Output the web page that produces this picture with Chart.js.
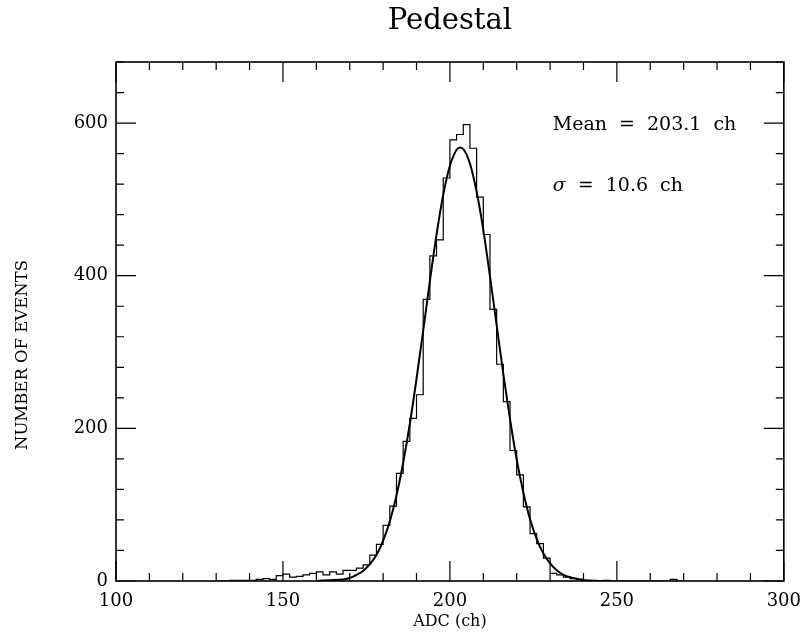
<!DOCTYPE html>
<html lang="en">
<head>
<meta charset="UTF-8">
<title>Pedestal</title>
<script src="https://cdn.jsdelivr.net/npm/chart.js"></script>
<style>
    html, body { margin: 0; padding: 0; background: #fff; overflow: hidden; }
    canvas { display: block; }
</style>
</head>
<body>
<canvas id="pedestalChart" width="811" height="639"></canvas>
<script>
    // histogram: 2-channel bins, first bin starts at ADC 130
    const binStart = 130;
    const binWidth = 2;
    const counts = [
        0, 0, 1, 1, 1, 1, 2, 3, 2, 7,
        9, 5, 6, 8, 10, 12, 8, 12, 9, 14,
        14, 17, 21, 34, 48, 73, 98, 141, 183, 213,
        244, 369, 426, 447, 528, 578, 585, 598, 567, 503,
        454, 356, 284, 235, 171, 139, 97, 62, 49, 30,
        10, 8, 5, 3, 2, 1, 1, 0, 1, 0,
        0, 0, 0, 0, 0, 0, 0, 0, 2, 0
    ];

    // fitted curve
    const fitAdc = [160, 164, 168, 170, 172, 174, 176, 178, 180, 182, 184, 186, 188, 190, 192, 194, 196, 198, 200, 202, 203,
        204, 206, 208, 210, 212, 214, 216, 218, 220, 222, 224, 226, 228, 230, 232, 234, 236, 238, 240, 244, 248];
    const fitEvents = [0, 1, 2, 4, 8, 13, 22, 34, 53, 78, 112, 155, 206, 265, 328, 393, 454, 506, 544, 565, 568,
        566, 547, 510, 460, 399, 335, 271, 212, 159, 116, 81, 55, 36, 23, 14, 8, 5, 3, 1, 0, 0];

    const xTicks = [100, 150, 200, 250, 300];
    const yTicks = [0, 200, 400, 600];
    const xMinorStep = 10;
    const yMinorStep = 40;

    const serif = "'DejaVu Serif', 'Liberation Serif', serif";

    const histPoints = counts.map((c, i) => ({x: binStart + i * binWidth, y: c}));
    histPoints.push({x: binStart + counts.length * binWidth, y: 0});
    const fitPoints = fitAdc.map((a, i) => ({x: a, y: fitEvents[i]}));

    // frame with inward ticks on all four sides, plus the text labels
    const frameAndTicks = {
        id: 'frameAndTicks',
        afterDatasetsDraw(chart) {
            const {ctx, chartArea: a, scales: {x, y}} = chart;
            ctx.save();
            ctx.strokeStyle = '#000';
            ctx.lineWidth = 1.2;
            ctx.beginPath();
            for (let v = x.min; v <= x.max; v += xMinorStep) {
                const px = x.getPixelForValue(v);
                const len = xTicks.includes(v) ? 20 : 8;
                ctx.moveTo(px, a.bottom); ctx.lineTo(px, a.bottom - len);
                ctx.moveTo(px, a.top); ctx.lineTo(px, a.top + len);
            }
            for (let v = y.min; v <= y.max; v += yMinorStep) {
                const py = y.getPixelForValue(v);
                const len = yTicks.includes(v) ? 20 : 8;
                ctx.moveTo(a.left, py); ctx.lineTo(a.left + len, py);
                ctx.moveTo(a.right, py); ctx.lineTo(a.right - len, py);
            }
            ctx.stroke();
            ctx.lineWidth = 1.6;
            ctx.strokeRect(a.left, a.top, a.right - a.left, a.bottom - a.top);

            ctx.fillStyle = '#000';
            ctx.textBaseline = 'alphabetic';
            ctx.textAlign = 'left';
            const hasSpacing = 'wordSpacing' in ctx;
            if (hasSpacing) ctx.wordSpacing = '6px';
            ctx.font = '19px ' + serif;
            const tx = x.getPixelForValue(230.8);
            ctx.fillText('Mean = 203.1 ch', tx, y.getPixelForValue(591));
            ctx.font = 'italic 19px ' + serif;
            const sy = y.getPixelForValue(511);
            ctx.fillText('σ', tx, sy);
            const sw = ctx.measureText('σ').width;
            ctx.font = '19px ' + serif;
            ctx.fillText(' = 10.6 ch', tx + sw, sy);
            if (hasSpacing) ctx.wordSpacing = '0px';

            // y axis title
            ctx.translate(23, 355);
            ctx.rotate(-Math.PI / 2);
            ctx.textAlign = 'center';
            ctx.textBaseline = 'middle';
            ctx.font = '16.5px ' + serif;
            ctx.fillText('NUMBER OF EVENTS', 0, 0);
            ctx.restore();
        }
    };

    Chart.defaults.color = '#000';

    new Chart(document.getElementById('pedestalChart'), {
        type: 'line',
        data: {
            datasets: [{
                data: histPoints,
                stepped: 'before',
                borderColor: '#000',
                borderWidth: 1.2,
                pointRadius: 0,
                fill: false
            }, {
                data: fitPoints,
                borderColor: '#000',
                borderWidth: 2,
                pointRadius: 0,
                cubicInterpolationMode: 'monotone',
                fill: false
            }]
        },
        options: {
            responsive: false,
            animation: false,
            devicePixelRatio: 1,
            layout: {padding: {left: 0, right: 19, top: 0, bottom: 0}},
            plugins: {
                legend: {display: false},
                tooltip: {enabled: false},
                title: {
                    display: true,
                    text: 'Pedestal',
                    fullSize: false,
                    color: '#000',
                    font: {family: serif, size: 29, weight: 'normal'},
                    padding: {top: 4, bottom: 23.2}
                }
            },
            scales: {
                x: {
                    type: 'linear',
                    min: 100,
                    max: 300,
                    afterBuildTicks: s => { s.ticks = xTicks.map(v => ({value: v})); },
                    afterFit: s => { s.height = 58; },
                    grid: {display: false, drawTicks: false},
                    border: {display: false},
                    ticks: {font: {family: serif, size: 18}, color: '#000', padding: 10, maxRotation: 0},
                    title: {
                        display: true,
                        text: 'ADC (ch)',
                        color: '#000',
                        font: {family: serif, size: 16},
                        padding: {top: 0, bottom: 8}
                    }
                },
                y: {
                    type: 'linear',
                    min: 0,
                    max: 680,
                    afterBuildTicks: s => { s.ticks = yTicks.map(v => ({value: v})); },
                    afterFit: s => { s.width = 116; },
                    grid: {display: false, drawTicks: false},
                    border: {display: false},
                    ticks: {font: {family: serif, size: 18}, color: '#000', padding: 8}
                }
            }
        },
        plugins: [frameAndTicks]
    });
</script>
</body>
</html>
